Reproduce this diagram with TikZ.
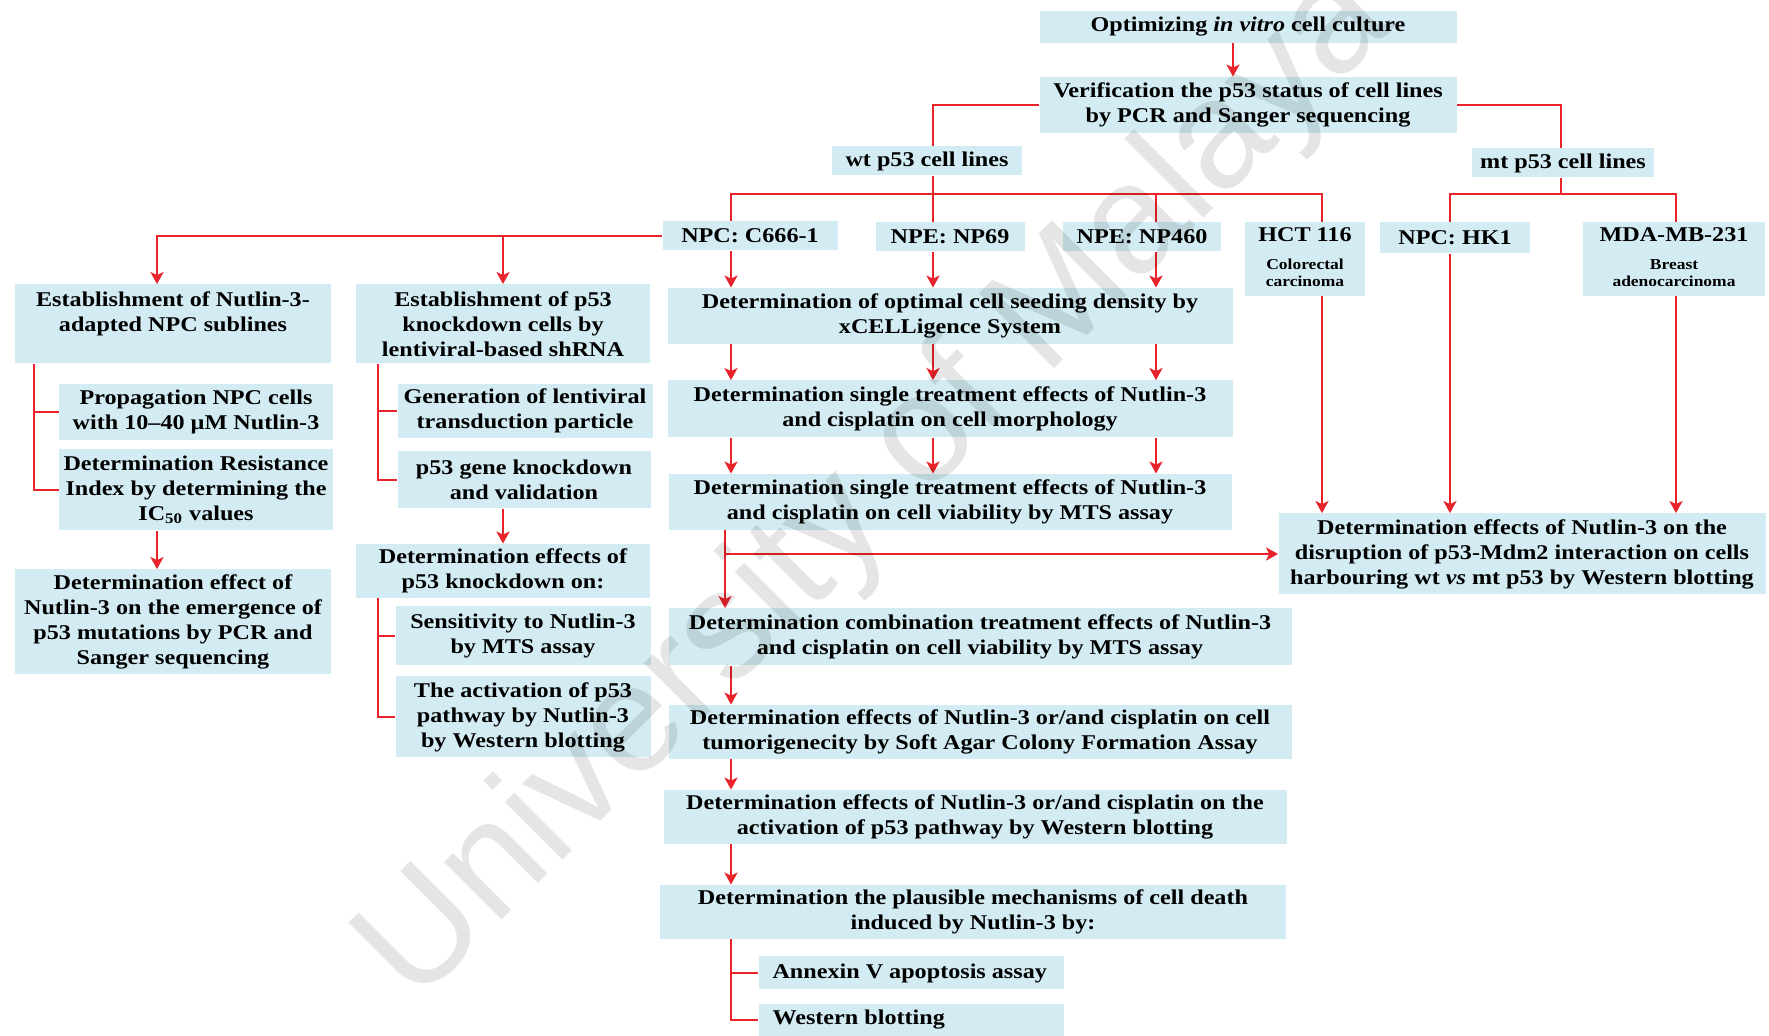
\documentclass[tikz,border=0pt]{standalone}
\usepackage{fontspec}
\setmainfont{Liberation Serif}[FakeStretch=1.15]
\newfontfamily\wmfont{Liberation Sans}
\usetikzlibrary{arrows.meta}
\definecolor{boxblue}{RGB}{211,236,243}
\definecolor{linered}{RGB}{232,35,42}
\newcommand\smalltag{\fontsize{7.6}{8.5}\selectfont}
\tikzset{
  box/.style={fill=boxblue, inner sep=0pt, align=center, font=\fontsize{10.5}{12.5}\selectfont\bfseries},
  ln/.style={draw=linered, line width=1.4pt},
  arr/.style={ln, -{Stealth[length=6pt,width=6.5pt,inset=1.5pt]}},
}
\begin{document}
\begin{tikzpicture}[x=0.5pt,y=-0.5pt]
\fill[white] (0,0) rectangle (1769,1036);
\useasboundingbox (0,0) rectangle (1769,1036);

% column coordinates
\coordinate (xA) at (731,0);
\coordinate (xB) at (933,0);
\coordinate (xC) at (1156,0);
\coordinate (xH) at (1322,0);
\coordinate (xK) at (1450,0);
\coordinate (xM) at (1676,0);
\coordinate (xMT) at (1561,0);
\coordinate (xD) at (725,0);
\coordinate (xL1) at (157,0);
\coordinate (xL2) at (503,0);
\coordinate (xbA) at (34,0);
\coordinate (xbB) at (378,0);
\coordinate (bus) at (0,194);

% top
\node[box, minimum width=208.5pt, minimum height=16pt] (opt) at (1248,27) {Optimizing \textit{in vitro} cell culture};
\node[box, minimum width=208.5pt, minimum height=28pt] (ver) at (1248,105) {Verification the p53 status of cell lines\\by PCR and Sanger sequencing};
\node[box, minimum width=95pt, minimum height=14.5pt] (wt) at (927,161) {wt p53 cell lines};
\node[box, minimum width=91pt, minimum height=14.5pt] (mt) at (1563,163) {mt p53 cell lines};

% cell lines
\node[box, minimum width=87.5pt, minimum height=14.5pt] (c666) at (750,236) {NPC: C666-1};
\node[box, minimum width=74.5pt, minimum height=14.5pt] (np69) at (950,237) {NPE: NP69};
\node[box, minimum width=79pt, minimum height=14.5pt] (np460) at (1142,237) {NPE: NP460};
\node[box, minimum width=60pt, minimum height=37pt] (hct) at (1305,259) {\begin{tabular}{@{}c@{}}HCT 116\\[1.5pt]\smalltag Colorectal\\[-4pt]\smalltag carcinoma\end{tabular}};
\node[box, minimum width=75pt, minimum height=15.5pt] (hk1) at (1455,238) {NPC: HK1};
\node[box, minimum width=91pt, minimum height=37pt] (mda) at (1674,259) {\begin{tabular}{@{}c@{}}MDA-MB-231\\[1.5pt]\smalltag Breast\\[-4pt]\smalltag adenocarcinoma\end{tabular}};

% left column A
\node[box, minimum width=158pt, minimum height=39.5pt] (a1) at (173,324) {Establishment of Nutlin-3-\\adapted NPC sublines\\ \mbox{}};
\node[box, minimum width=137pt, minimum height=28pt] (a2) at (196,412) {Propagation NPC cells\\with 10–40 µM Nutlin-3};
\node[box, minimum width=137pt, minimum height=40.5pt] (a3) at (196,490) {Determination Resistance\\Index by determining the\\IC\textsubscript{50} values};
\node[box, minimum width=158pt, minimum height=52.5pt] (a4) at (173,622) {Determination effect of\\Nutlin-3 on the emergence of\\p53 mutations by PCR and\\Sanger sequencing};

% column B
\node[box, minimum width=147pt, minimum height=39.5pt] (b1) at (503,324) {Establishment of p53\\knockdown cells by\\lentiviral-based shRNA};
\node[box, minimum width=127.5pt, minimum height=27pt] (b2) at (525,411) {Generation of lentiviral\\transduction particle};
\node[box, minimum width=126.5pt, minimum height=28.5pt] (b3) at (524,480) {p53 gene knockdown\\and validation};
\node[box, minimum width=147pt, minimum height=27pt] (b4) at (503,571) {Determination effects of\\p53 knockdown on:};
\node[box, minimum width=127.5pt, minimum height=29.5pt] (b5) at (523,636) {Sensitivity to Nutlin-3\\by MTS assay};
\node[box, minimum width=127.5pt, minimum height=40.5pt] (b6) at (523,717) {The activation of p53\\pathway by Nutlin-3\\by Western blotting};

% column C
\node[box, minimum width=282.5pt, minimum height=28pt] (c1) at (950,316) {Determination of optimal cell seeding density by\\xCELLigence System};
\node[box, minimum width=282.5pt, minimum height=28.5pt] (c2) at (950,409) {Determination single treatment effects of Nutlin-3\\and cisplatin on cell morphology};
\node[box, minimum width=281.5pt, minimum height=28pt] (c3) at (950,502) {Determination single treatment effects of Nutlin-3\\and cisplatin on cell viability by MTS assay};
\node[box, minimum width=311.5pt, minimum height=28.5pt] (c4) at (980,637) {Determination combination treatment effects of Nutlin-3\\and cisplatin on cell viability by MTS assay};
\node[box, minimum width=311.5pt, minimum height=27pt] (c5) at (980,732) {Determination effects of Nutlin-3 or/and cisplatin on cell\\tumorigenecity by Soft Agar Colony Formation Assay};
\node[box, minimum width=311.5pt, minimum height=27pt] (c6) at (975,817) {Determination effects of Nutlin-3 or/and cisplatin on the\\activation of p53 pathway by Western blotting};
\node[box, minimum width=313pt, minimum height=27pt] (c7) at (973,912) {Determination the plausible mechanisms of cell death\\induced by Nutlin-3 by:};
\node[box, inner xsep=7pt, minimum height=16.5pt] (c8) at (911,973) {\makebox[138.5pt][l]{Annexin V apoptosis assay}};
\node[box, inner xsep=7pt, minimum height=16pt] (c9) at (911,1020) {\makebox[138.5pt][l]{Western blotting}};

% D
\node[box, minimum width=243.5pt, minimum height=40.5pt] (d) at (1522,554) {Determination effects of Nutlin-3 on the\\disruption of p53-Mdm2 interaction on cells\\harbouring wt \textit{vs} mt p53 by Western blotting};

% ---- connectors ----
\draw[arr] ([xshift=-7.5pt]opt.south) -- ([xshift=-7.5pt]ver.north);
\draw[ln] (ver.west) -| (wt.north -| xB);
\draw[ln] (ver.east) -| (mt.north -| xMT);

% wt bus
\draw[ln] (wt.south -| xB) -- (np69.north -| xB);
\draw[ln] (c666.north -| xA) -- (xA |- bus) -- (xH |- bus) -- (hct.north -| xH);
\draw[ln] (np460.north -| xC) -- (xC |- bus);
% mt bus
\draw[ln] (mt.south -| xMT) -- (xMT |- bus);
\draw[ln] (hk1.north -| xK) -- (xK |- bus) -- (xM |- bus) -- (mda.north -| xM);

% left branches
\draw[arr] (c666.west) -| (a1.north -| xL1);
\draw[arr] (xL2 |- c666.west) -- (b1.north -| xL2);

% A bracket
\draw[ln] (a1.south -| xbA) |- (a3.west);
\draw[ln] (xbA |- a2.west) -- (a2.west);
\draw[arr] (a3.south -| xL1) -- (a4.north -| xL1);

% B brackets
\draw[ln] (b1.south -| xbB) |- (b3.west);
\draw[ln] (xbB |- b2.west) -- (b2.west);
\draw[arr] (b3.south -| xL2) -- (b4.north -| xL2);
\draw[ln] (b4.south -| xbB) |- (b6.west);
\draw[ln] (xbB |- b5.west) -- (b5.west);

% C chain
\draw[arr] (c666.south -| xA) -- (c1.north -| xA);
\draw[arr] (np69.south -| xB) -- (c1.north -| xB);
\draw[arr] (np460.south -| xC) -- (c1.north -| xC);
\draw[arr] (c1.south -| xA) -- (c2.north -| xA);
\draw[arr] (c1.south -| xB) -- (c2.north -| xB);
\draw[arr] (c1.south -| xC) -- (c2.north -| xC);
\draw[arr] (c2.south -| xA) -- (c3.north -| xA);
\draw[arr] (c2.south -| xB) -- (c3.north -| xB);
\draw[arr] (c2.south -| xC) -- (c3.north -| xC);
\draw[arr] (c3.south -| xD) -- (c4.north -| xD);
\draw[arr] (xD |- d.west) -- (d.west);
\draw[arr] (c4.south -| xA) -- (c5.north -| xA);
\draw[arr] (c5.south -| xA) -- (c6.north -| xA);
\draw[arr] (c6.south -| xA) -- (c7.north -| xA);
\draw[ln] (c7.south -| xA) |- (c9.west);
\draw[ln] (xA |- c8.west) -- (c8.west);

% to D
\draw[arr] (hct.south -| xH) -- (d.north -| xH);
\draw[arr] (hk1.south -| xK) -- (d.north -| xK);
\draw[arr] (mda.south -| xM) -- (d.north -| xM);

% watermark
\node[rotate=45, text=black, text opacity=0.1, font=\wmfont\fontsize{77}{77}\selectfont] (wm) at (878,488) {University of Malaya};
\end{tikzpicture}
\end{document}
